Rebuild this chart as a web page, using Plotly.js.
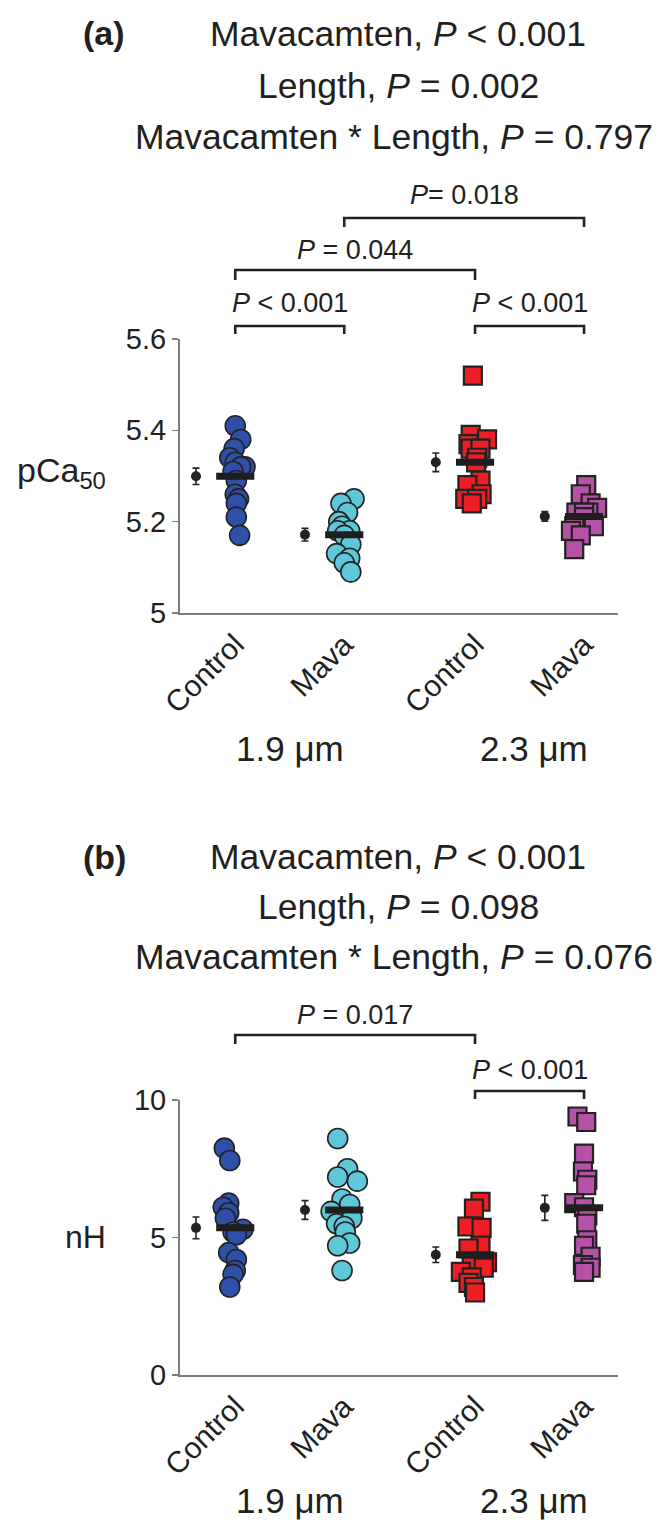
<!DOCTYPE html>
<html>
<head>
<meta charset="utf-8">
<script src="https://cdn.plot.ly/plotly-3.0.1.min.js"></script>
<style>html,body{margin:0;padding:0;background:#fff;}</style>
</head>
<body>
<div id="chart" style="width:661px;height:1527px;"></div>
<script>
// ---------- data ----------
const categories = ["Control", "Mava", "Control", "Mava"];
const lengthLabels = ["1.9 μm", "2.3 μm"];

// pCa50 individual values
const pca_ctrl19 = [5.41, 5.38, 5.36, 5.34, 5.33, 5.32, 5.32, 5.31, 5.29, 5.26, 5.25, 5.24, 5.21, 5.17];
const pca_mava19 = [5.25, 5.24, 5.22, 5.20, 5.19, 5.18, 5.18, 5.17, 5.15, 5.13, 5.12, 5.11, 5.09];
const pca_ctrl23 = [5.52, 5.39, 5.38, 5.37, 5.36, 5.36, 5.34, 5.33, 5.29, 5.28, 5.26, 5.25, 5.25, 5.24];
const pca_mava23 = [5.28, 5.26, 5.24, 5.23, 5.22, 5.22, 5.22, 5.21, 5.19, 5.19, 5.18, 5.17, 5.14];

// nH individual values
const nh_ctrl19 = [8.25, 7.8, 6.25, 6.1, 5.9, 5.7, 5.3, 5.2, 5.1, 4.45, 4.2, 3.8, 3.66, 3.2];
const nh_mava19 = [8.6, 7.5, 7.2, 7.05, 6.4, 6.2, 5.95, 5.7, 5.5, 5.4, 5.2, 4.8, 4.7, 3.8];
const nh_ctrl23 = [6.3, 6.05, 5.4, 5.35, 4.7, 4.6, 4.1, 3.95, 3.9, 3.75, 3.55, 3.35, 3.2, 3.0];
const nh_mava23 = [9.4, 9.2, 8.05, 7.4, 7.1, 6.9, 6.25, 6.1, 5.8, 5.5, 4.9, 4.7, 4.3, 4.0, 3.9, 3.75];

// tick labels
const pcaTicks = [5, 5.2, 5.4, 5.6];
const pcaTickText = ["5", "5.2", "5.4", "5.6"];
const nhTicks = [0, 5, 10];
const nhTickText = ["0", "5", "10"];

// statistics text
const statsA = ["Mavacamten, <i>P</i> &lt; 0.001", "Length, <i>P</i> = 0.002", "Mavacamten * Length, <i>P</i> = 0.797"];
const statsB = ["Mavacamten, <i>P</i> &lt; 0.001", "Length, <i>P</i> = 0.098", "Mavacamten * Length, <i>P</i> = 0.076"];
const pairsA = [
  {a: 1, b: 3, text: "<i>P</i>= 0.018"},
  {a: 0, b: 2, text: "<i>P</i> = 0.044"},
  {a: 0, b: 1, text: "<i>P</i> &lt; 0.001"},
  {a: 2, b: 3, text: "<i>P</i> &lt; 0.001"}
];
const pairsB = [
  {a: 0, b: 2, text: "<i>P</i> = 0.017"},
  {a: 2, b: 3, text: "<i>P</i> &lt; 0.001"}
];

// ---------- layout constants (positions / styles) ----------
const W = 661, H = 1527;
const X = px => px / W;
const Y = py => 1 - py / H;
const groupPos = [0, 1, 2.2, 3.2];     // mean-dot positions
const ptShift = 0.36;                  // scatter cluster offset from mean dot
const barHalf = 0.175;
// jitter of the individual points
const jitPca = [
  [0, 0.05, -0.01, -0.05, 0, 0.09, 0.05, -0.02, 0.01, 0, 0.03, 0.01, 0.01, 0.04],
  [0.09, -0.03, 0.03, -0.05, -0.02, 0.05, -0.06, 0, 0.06, -0.07, 0.05, 0, 0.06],
  [-0.02, -0.04, 0.11, -0.06, -0.04, 0.05, 0.02, 0.01, 0.05, -0.07, 0.06, -0.09, 0.02, -0.03],
  [0.02, -0.03, 0.06, 0.12, 0.04, -0.07, 0, 0, -0.09, 0.09, -0.12, -0.03, -0.09]
];
const jitNh = [
  [-0.1, -0.05, -0.06, -0.11, -0.06, -0.09, 0.07, -0.02, 0.01, -0.06, 0.01, 0, -0.02, -0.05],
  [-0.06, 0.03, -0.06, 0.12, -0.02, 0.05, -0.12, 0.07, -0.07, 0, 0.01, 0.05, -0.06, -0.02],
  [0.05, -0.01, -0.07, 0.06, 0.05, -0.06, 0.11, -0.03, 0.08, -0.13, -0.03, -0.06, -0.01, 0],
  [-0.06, 0.02, 0, -0.01, 0.03, 0.02, -0.09, 0, 0.03, 0.02, 0.03, 0, 0.06, -0.01, 0.06, 0]
];
const colors = ["#2E50A8", "#5FC8D8", "#ED1E24", "#B552A6"];
const symbols = ["circle", "circle", "square", "square"];
const sizes = [20, 20, 18, 18];
const FONT = "Liberation Sans, Arial, Helvetica, sans-serif";
const INK = "#231f20";
const AXC = "#7d7d7d";

const mean = a => a.reduce((s, v) => s + v, 0) / a.length;
const sem = a => { const m = mean(a); const v = a.reduce((s, x) => s + (x - m) * (x - m), 0) / (a.length - 1); return Math.sqrt(v / a.length); };

const traces = [];
function addPanel(groups, jit, xa, ya) {
  groups.forEach((vals, i) => {
    const c = groupPos[i] + ptShift;
    traces.push({
      type: "scatter", mode: "markers", xaxis: xa, yaxis: ya,
      x: vals.map((v, k) => c + jit[i][k]), y: vals,
      marker: {symbol: symbols[i], size: sizes[i], color: colors[i], line: {color: "#222", width: symbols[i] === "square" ? 2.2 : 1.6}},
      hoverinfo: "y", cliponaxis: false
    });
  });
  groups.forEach((vals, i) => {
    const c = groupPos[i] + ptShift, m = mean(vals);
    traces.push({
      type: "scatter", mode: "lines", xaxis: xa, yaxis: ya,
      x: [c - barHalf, c + barHalf], y: [m, m],
      line: {color: "#1e1e1e", width: 7}, hoverinfo: "skip", cliponaxis: false
    });
    traces.push({
      type: "scatter", mode: "markers", xaxis: xa, yaxis: ya,
      x: [groupPos[i]], y: [m],
      error_y: {type: "data", array: [sem(vals)], visible: true, color: "#222", thickness: 1.6, width: 3.5},
      marker: {symbol: "circle", size: 10, color: "#222"}, hoverinfo: "y", cliponaxis: false
    });
  });
}
addPanel([pca_ctrl19, pca_mava19, pca_ctrl23, pca_mava23], jitPca, "x", "y");
addPanel([nh_ctrl19, nh_mava19, nh_ctrl23, nh_mava23], jitNh, "x2", "y2");

// ---------- annotations & shapes ----------
const annotations = [];
const shapes = [];
function ann(text, px, py, size, opts) {
  annotations.push(Object.assign({
    text: text, x: X(px), y: Y(py), xref: "paper", yref: "paper",
    xanchor: "center", yanchor: "middle", showarrow: false,
    font: {family: FONT, size: size, color: INK}
  }, opts || {}));
}
function bracket(xref, a, b, py, drop, text, textPy) {
  const x1 = groupPos[a] + ptShift, x2 = groupPos[b] + ptShift;
  shapes.push({
    type: "path", xref: xref, yref: "paper",
    path: `M ${x1},${Y(py + drop)} L ${x1},${Y(py)} L ${x2},${Y(py)} L ${x2},${Y(py + drop)}`,
    line: {color: "#222", width: 2.6}
  });
  annotations.push({
    text: text, x: (x1 + x2) / 2, y: Y(textPy), xref: xref, yref: "paper",
    xanchor: "center", yanchor: "middle", showarrow: false,
    font: {family: FONT, size: 27, color: INK}
  });
}

const TSZ = 35.5;
// Panel a
ann("<b>(a)</b>", 104, 33, 34);
ann(statsA[0], 398, 34, TSZ);
ann(statsA[1], 398, 86, TSZ);
ann(statsA[2], 394, 137, TSZ);
bracket("x", pairsA[0].a, pairsA[0].b, 218, 9, pairsA[0].text, 195);
bracket("x", pairsA[1].a, pairsA[1].b, 270, 10, pairsA[1].text, 250);
bracket("x", pairsA[2].a, pairsA[2].b, 326, 8, pairsA[2].text, 303);
bracket("x", pairsA[3].a, pairsA[3].b, 326, 8, pairsA[3].text, 303);
ann("pCa<sub>50</sub>", 108, 472, 34, {xanchor: "right"});
ann(lengthLabels[0], 290, 748, 35);
ann(lengthLabels[1], 534, 748, 35);

// Panel b
ann("<b>(b)</b>", 104, 857, 34);
ann(statsB[0], 398, 857, TSZ);
ann(statsB[1], 398, 907, TSZ);
ann(statsB[2], 394, 957, TSZ);
bracket("x2", pairsB[0].a, pairsB[0].b, 1035, 9, pairsB[0].text, 1015);
bracket("x2", pairsB[1].a, pairsB[1].b, 1091, 8, pairsB[1].text, 1070);
ann("nH", 108, 1237, 32, {xanchor: "right"});
ann(lengthLabels[0], 290, 1500, 35);
ann(lengthLabels[1], 534, 1500, 35);

const xr = [(180 - 196) / 109, (618 - 196) / 109];
const tickPos = groupPos.map(p => p + ptShift);
function xAxis(anchor) {
  return {
    domain: [X(180), X(618)], range: xr, anchor: anchor,
    showline: true, linecolor: AXC, linewidth: 2, ticks: "", showgrid: false, zeroline: false,
    tickmode: "array", tickvals: tickPos, ticktext: categories, tickangle: -45,
    tickfont: {family: FONT, size: 30, color: INK}, fixedrange: true
  };
}
function yAxis(anchor, dom, range, tv, tt) {
  return {
    domain: dom, range: range, anchor: anchor,
    showline: true, linecolor: AXC, linewidth: 2, ticks: "outside", ticklen: 6, tickwidth: 1.5, tickcolor: AXC,
    showgrid: false, zeroline: false, tickmode: "array", tickvals: tv, ticktext: tt,
    tickfont: {family: FONT, size: 29, color: INK}, fixedrange: true
  };
}

const layout = {
  width: W, height: H, margin: {l: 0, r: 0, t: 0, b: 0},
  paper_bgcolor: "#fff", plot_bgcolor: "#fff", showlegend: false,
  xaxis: xAxis("y"),
  yaxis: yAxis("x", [Y(613), Y(339)], [5, 5.6], pcaTicks, pcaTickText),
  xaxis2: xAxis("y2"),
  yaxis2: yAxis("x2", [Y(1375), Y(1100)], [0, 10], nhTicks, nhTickText),
  annotations: annotations, shapes: shapes
};

Plotly.newPlot("chart", traces, layout, {staticPlot: true, displayModeBar: false});
</script>
</body>
</html>
